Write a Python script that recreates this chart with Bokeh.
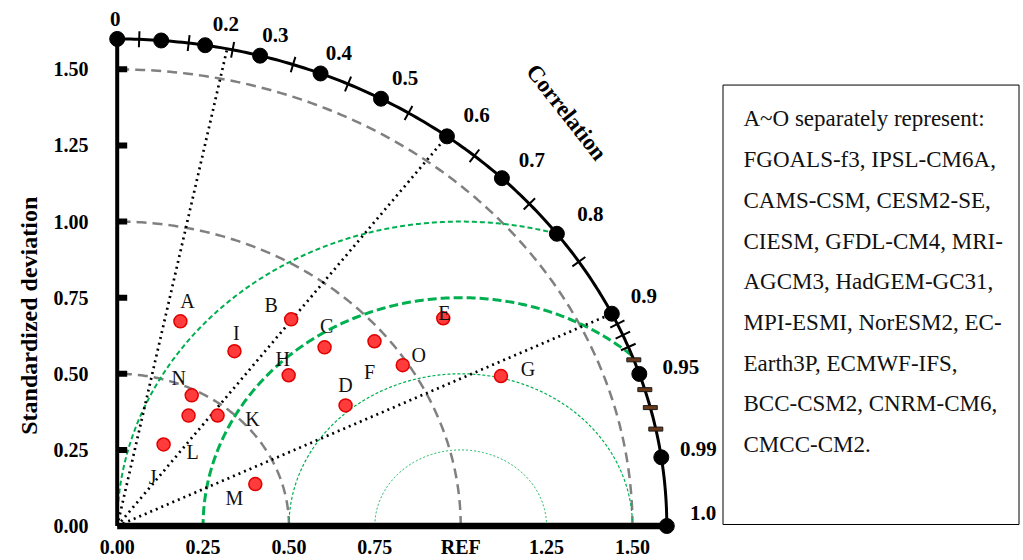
import numpy as np
from bokeh.plotting import figure
from bokeh.layouts import row
from bokeh.models import Range1d, FixedTicker, NumeralTickFormatter, Label
from bokeh.core.properties import value
from bokeh.embed import file_html
from bokeh.resources import INLINE

# ---- model statistics (normalised standard deviation, correlation with REF) ----
models = ["A", "B", "C", "D", "E", "F", "G", "H", "I", "J", "K", "L", "M", "N", "O"]
std_dev = [0.697, 0.847, 0.842, 0.774, 1.169, 0.964, 1.221, 0.703, 0.668,
           0.300, 0.466, 0.418, 0.425, 0.481, 0.985]
correlation = [0.264, 0.598, 0.717, 0.859, 0.812, 0.777, 0.915, 0.710, 0.511,
               0.450, 0.627, 0.497, 0.946, 0.451, 0.844]

legend_lines = [
    "A~O separately represent:",
    "FGOALS-f3, IPSL-CM6A,",
    "CAMS-CSM, CESM2-SE,",
    "CIESM, GFDL-CM4, MRI-",
    "AGCM3, HadGEM-GC31,",
    "MPI-ESMI, NorESM2, EC-",
    "Earth3P, ECMWF-IFS,",
    "BCC-CSM2, CNRM-CM6,",
    "CMCC-CM2.",
]

# ---- diagram furniture ----
std_ticks = [0.0, 0.25, 0.5, 0.75, 1.0, 1.25, 1.5]
corr_labels = ["0", "0.2", "0.3", "0.4", "0.5", "0.6", "0.7", "0.8", "0.9", "0.95", "0.99", "1.0"]
corr_label_values = [0.0, 0.2, 0.3, 0.4, 0.5, 0.6, 0.7, 0.8, 0.9, 0.95, 0.99, 1.0]
arc_dot_corr = [0.0, 0.08, 0.16, 0.26, 0.37, 0.48, 0.6, 0.7, 0.8, 0.9, 0.95, 0.99, 1.0]
arc_cross_corr = [0.04, 0.13, 0.21, 0.32, 0.42, 0.53, 0.65, 0.75, 0.84, 0.91, 0.92, 0.93]
arc_bar_corr = [0.94, 0.96, 0.97, 0.98]
ray_corr = [0.2, 0.6, 0.9]
std_arcs = [0.5, 1.0, 1.5]
rms_arcs = [0.25, 0.5, 0.75, 1.0]
R_MAX = 1.6
REF_STD = 1.0

# ---- page geometry (pixels per data unit, frame placement) ----
SX, SY = 343.5, 305.0
TITLE_W = 45                  # strip holding the vertical axis title
FRAME_LEFT, FRAME_W = 100, 620  # frame position on the page
FRAME_BOTTOM_PAD = 24
FRAME_H = 560 - FRAME_BOTTOM_PAD
ORIGIN_PX = (116.7, 526.5)

x0 = -(ORIGIN_PX[0] - FRAME_LEFT) / SX
y0 = -(FRAME_H - ORIGIN_PX[1]) / SY

SERIF = "Liberation Serif"
GREEN = "#00b050"

# ---- vertical axis title strip ----
t = figure(width=TITLE_W, height=560, x_range=Range1d(0, TITLE_W), y_range=Range1d(560, 0),
           min_border=0, x_axis_location=None, y_axis_location=None,
           output_backend="svg", toolbar_location=None, outline_line_color=None)
t.grid.visible = False
t.text(x=[28], y=[330], text=["Standardized deviation"], angle=np.pi / 2,
       text_font=value(SERIF), text_font_style="bold", text_font_size="24px",
       text_align="center", text_baseline="middle", text_color="black")

# ---- Taylor diagram ----
p = figure(width=FRAME_LEFT - TITLE_W + FRAME_W, height=560,
           x_range=Range1d(x0, x0 + FRAME_W / SX),
           y_range=Range1d(y0, y0 + FRAME_H / SY),
           min_border_left=FRAME_LEFT - TITLE_W, min_border_right=0,
           min_border_top=0, min_border_bottom=FRAME_BOTTOM_PAD,
           output_backend="svg", toolbar_location=None,
           background_fill_color="white", border_fill_color="white",
           outline_line_color=None)
p.grid.visible = False

for ax in (p.xaxis, p.yaxis):
    ax.ticker = FixedTicker(ticks=std_ticks)
    ax.formatter = NumeralTickFormatter(format="0.00")
    ax.axis_line_color = None
    ax.major_tick_line_color = None
    ax.minor_tick_line_color = None
    ax.major_tick_in = 0
    ax.major_tick_out = 0
    ax.major_label_text_font = SERIF
    ax.major_label_text_font_style = "bold"
    ax.major_label_text_font_size = "20px"
    ax.major_label_text_color = "black"
p.xaxis.major_label_overrides = {REF_STD: "REF"}
p.xaxis.major_label_standoff = 0
p.yaxis.major_label_standoff = 12


def polar(c, r):
    c = np.asarray(c, dtype=float)
    r = np.asarray(r, dtype=float)
    return r * c, r * np.sqrt(np.clip(1 - c ** 2, 0, None))


# standard-deviation arcs around the origin
theta = np.linspace(0, np.pi / 2, 200)
p.multi_line([list(r * np.cos(theta)) for r in std_arcs],
             [list(r * np.sin(theta)) for r in std_arcs],
             line_color="#808080", line_width=2.5, line_dash="10 6")

# centred RMS difference arcs around REF
rms_styles = {0.25: (1.0, "2 2"), 0.5: (1.2, "3 2"), 0.75: (3.0, "9 4"), 1.0: (2.0, "5 3")}
phi = np.linspace(0, np.pi, 600)
for rr in rms_arcs:
    xs = REF_STD + rr * np.cos(phi)
    ys = rr * np.sin(phi)
    keep = (xs ** 2 + ys ** 2) <= R_MAX ** 2 + 1e-9
    w, dash = rms_styles[rr]
    p.line(xs[keep], ys[keep], line_color=GREEN, line_width=w, line_dash=dash)

# correlation rays
for c in ray_corr:
    ex, ey = polar(c, R_MAX)
    p.line([0, float(ex)], [0, float(ey)], line_color="black", line_width=2.7, line_dash="2 4")

# outer correlation arc and the two axes
p.line(R_MAX * np.cos(theta), R_MAX * np.sin(theta), line_color="black", line_width=3)
p.line([0, 0], [0, R_MAX], line_color="black", line_width=4)
p.line([0, R_MAX], [0, 0], line_color="black", line_width=6.5)

# short ticks on the std-dev axis
tick_len = 10 / SX
p.segment(x0=[0] * (len(std_ticks) - 1), y0=std_ticks[1:],
          x1=[tick_len] * (len(std_ticks) - 1), y1=std_ticks[1:],
          line_color="black", line_width=6)

# cross ticks on the correlation arc (perpendicular on screen)
half = 8.0
cx, cy = polar(arc_cross_corr, R_MAX)
th = np.arccos(np.array(arc_cross_corr))
nx = np.cos(th) / (R_MAX * SX)
ny = np.sin(th) / (R_MAX * SY)
nn = np.hypot(nx, ny)
dx = nx / nn * half / SX
dy = ny / nn * half / SY
p.segment(x0=cx - dx, y0=cy - dy, x1=cx + dx, y1=cy + dy, line_color="black", line_width=2)

bx, by = polar(arc_bar_corr, R_MAX)
p.rect(bx, by, width=14, height=4, width_units="screen", height_units="screen",
       fill_color="#6b3a1a", line_color="#1a1a1a", line_width=1)

dxs, dys = polar(arc_dot_corr, R_MAX)
p.scatter(dxs, dys, size=15, fill_color="black", line_color="black")

# correlation labels
label_offsets = [(-2, 11), (-8, 5), (-17, 3), (-12, 1), (-4, 0), (9, 3), (6, 4),
                 (6, -1), (1, -4), (9, 3), (3, -4), (2, -13)]
lx, ly = polar(corr_label_values, 1.7)
p.text(lx, ly, text=corr_labels,
       x_offset=[o[0] for o in label_offsets], y_offset=[o[1] for o in label_offsets],
       text_font=value(SERIF), text_font_style="bold", text_font_size="21px",
       text_align="center", text_baseline="middle", text_color="black")

p.add_layout(Label(x=1.308, y=1.359, text="Correlation", angle=-0.907,
                   text_font=SERIF, text_font_style="bold", text_font_size="23px",
                   text_align="center", text_baseline="middle", text_color="black"))

# models
mx, my = polar(correlation, std_dev)
p.scatter(mx, my, size=13, fill_color="#ff3b3b", line_color="#e00000", line_width=1.5)
name_offsets = [(7, -20), (-20, -14), (2, -21), (0, -20), (1, -5), (-5, 31), (27, -7),
                (-6, -16), (2, -18), (-11, 33), (35, 3), (4, 36), (-21, 14), (-13, -17), (16, -10)]
p.text(mx, my, text=models,
       x_offset=[o[0] for o in name_offsets], y_offset=[o[1] for o in name_offsets],
       text_font=value(SERIF), text_font_size="20px",
       text_align="center", text_baseline="middle", text_color="#111111")

# ---- key panel ----
LEG_W = 1023 - (FRAME_LEFT + FRAME_W)
q = figure(width=LEG_W, height=560, x_range=Range1d(0, LEG_W), y_range=Range1d(560, 0),
           min_border=0, x_axis_location=None, y_axis_location=None,
           output_backend="svg", toolbar_location=None, outline_line_color=None)
q.grid.visible = False
q.quad(left=[2.5], right=[LEG_W - 4.5], top=[88.5], bottom=[548.5],
       fill_color=None, line_color="black", line_width=1)
q.text(x=[23] * len(legend_lines), y=[124 + 42.6 * i for i in range(len(legend_lines))],
       text=legend_lines, text_font=value(SERIF), text_font_size="23px",
       text_align="left", text_baseline="middle", text_color="#111111")

layout = row(t, p, q, spacing=0)
open("out.html", "w").write(file_html(layout, INLINE))
